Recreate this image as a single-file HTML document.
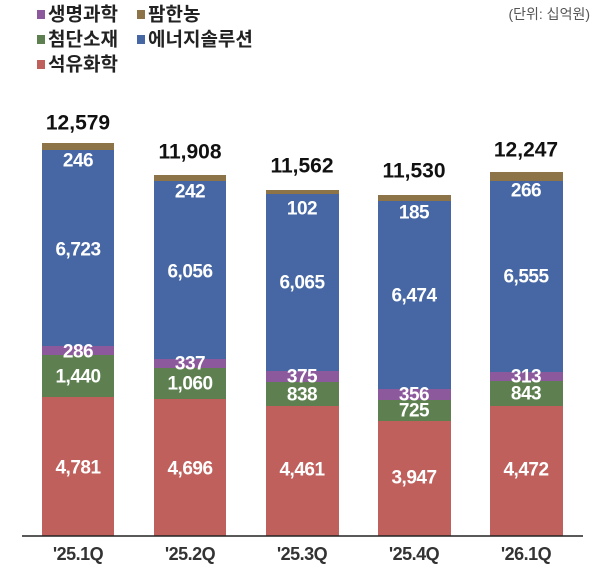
<!DOCTYPE html>
<html><head><meta charset="utf-8"><style>
html,body{margin:0;padding:0;background:#fff;}
svg{display:block;font-family:"Liberation Sans","Noto Sans CJK KR",sans-serif;}
.w{fill:#fff;font-weight:bold;font-size:19px;text-anchor:middle;dominant-baseline:central;letter-spacing:-0.5px;}
.t{fill:#111;font-weight:bold;font-size:21px;text-anchor:middle;dominant-baseline:central;}
.c{fill:#333;font-weight:bold;font-size:18px;text-anchor:middle;dominant-baseline:central;letter-spacing:-0.5px;}
.l{fill:#222;font-size:19px;dominant-baseline:central;font-weight:bold;}
</style></head><body>
<svg width="600" height="571" viewBox="0 0 600 571">
<rect x="37" y="10" width="8" height="9" fill="#8c5a9c"/><text class="l" x="48" y="15">생명과학</text>
<rect x="137" y="10" width="8" height="9" fill="#8c7348"/><text class="l" x="148" y="15">팜한농</text>
<rect x="37" y="35" width="8" height="9" fill="#5e8050"/><text class="l" x="48" y="40">첨단소재</text>
<rect x="137" y="35" width="8" height="9" fill="#4667a4"/><text class="l" x="148" y="40">에너지솔루션</text>
<rect x="37" y="60" width="8" height="9" fill="#c0605c"/><text class="l" x="48" y="65">석유화학</text>
<text x="590" y="14" fill="#555" font-size="14" text-anchor="end" dominant-baseline="central">(단위: 십억원)</text>

<g>
<rect x="42" y="143" width="72" height="7" fill="#8c7348"/>
<rect x="42" y="150" width="72" height="196" fill="#4667a4"/>
<rect x="42" y="346" width="72" height="9" fill="#8c5a9c"/>
<rect x="42" y="355" width="72" height="42" fill="#5e8050"/>
<rect x="42" y="397" width="72" height="139" fill="#c0605c"/>
<text class="t" x="78" y="123">12,579</text>
<text class="w" x="78" y="161">246</text><text class="w" x="78" y="250">6,723</text>
<text class="w" x="78" y="352">286</text><text class="w" x="78" y="377">1,440</text><text class="w" x="78" y="468">4,781</text>
</g>
<g>
<rect x="154" y="175" width="72" height="6" fill="#8c7348"/>
<rect x="154" y="181" width="72" height="178" fill="#4667a4"/>
<rect x="154" y="359" width="72" height="9" fill="#8c5a9c"/>
<rect x="154" y="368" width="72" height="31" fill="#5e8050"/>
<rect x="154" y="399" width="72" height="137" fill="#c0605c"/>
<text class="t" x="190" y="152">11,908</text>
<text class="w" x="190" y="192">242</text><text class="w" x="190" y="272">6,056</text>
<text class="w" x="190" y="364">337</text><text class="w" x="190" y="384">1,060</text><text class="w" x="190" y="469">4,696</text>
</g>
<g>
<rect x="266" y="190" width="73" height="4" fill="#8c7348"/>
<rect x="266" y="194" width="73" height="177" fill="#4667a4"/>
<rect x="266" y="371" width="73" height="11" fill="#8c5a9c"/>
<rect x="266" y="382" width="73" height="24" fill="#5e8050"/>
<rect x="266" y="406" width="73" height="130" fill="#c0605c"/>
<text class="t" x="302" y="166">11,562</text>
<text class="w" x="302" y="209">102</text><text class="w" x="302" y="283">6,065</text>
<text class="w" x="302" y="377">375</text><text class="w" x="302" y="395">838</text><text class="w" x="302" y="470">4,461</text>
</g>
<g>
<rect x="378" y="195" width="73" height="6" fill="#8c7348"/>
<rect x="378" y="201" width="73" height="188" fill="#4667a4"/>
<rect x="378" y="389" width="73" height="11" fill="#8c5a9c"/>
<rect x="378" y="400" width="73" height="21" fill="#5e8050"/>
<rect x="378" y="421" width="73" height="115" fill="#c0605c"/>
<text class="t" x="414" y="171">11,530</text>
<text class="w" x="414" y="213">185</text><text class="w" x="414" y="296">6,474</text>
<text class="w" x="414" y="395">356</text><text class="w" x="414" y="411">725</text><text class="w" x="414" y="478">3,947</text>
</g>
<g>
<rect x="490" y="172" width="73" height="9" fill="#8c7348"/>
<rect x="490" y="181" width="73" height="191" fill="#4667a4"/>
<rect x="490" y="372" width="73" height="9" fill="#8c5a9c"/>
<rect x="490" y="381" width="73" height="25" fill="#5e8050"/>
<rect x="490" y="406" width="73" height="130" fill="#c0605c"/>
<text class="t" x="526" y="150">12,247</text>
<text class="w" x="526" y="191">266</text><text class="w" x="526" y="277">6,555</text>
<text class="w" x="526" y="377">313</text><text class="w" x="526" y="394">843</text><text class="w" x="526" y="470">4,472</text>
</g>
<line x1="22" y1="536" x2="583" y2="536" stroke="#222" stroke-width="1.5"/>
<text class="c" x="78" y="554">'25.1Q</text>
<text class="c" x="190" y="554">'25.2Q</text>
<text class="c" x="302" y="554">'25.3Q</text>
<text class="c" x="414" y="554">'25.4Q</text>
<text class="c" x="526" y="554">'26.1Q</text>
</svg>
</body></html>
